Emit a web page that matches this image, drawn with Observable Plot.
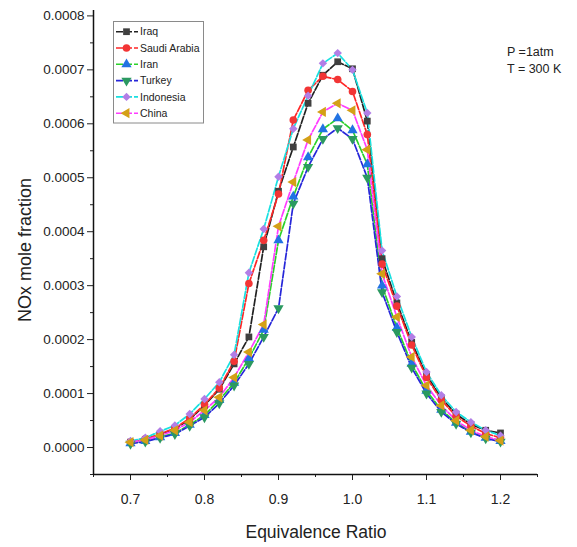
<!DOCTYPE html>
<html><head><meta charset="utf-8">
<script src="https://cdn.jsdelivr.net/npm/d3@7"></script>
<script src="https://cdn.jsdelivr.net/npm/@observablehq/plot@0.6"></script>
<style>
body{margin:0;background:#fff;}
#chart{position:relative;width:577px;height:547px;}
</style>
</head><body><div id="chart"></div>
<script>
// Equivalence ratio (x)
const phi = [0.70,0.72,0.74,0.76,0.78,0.80,0.82,0.84,0.86,0.88,0.90,0.92,0.94,0.96,0.98,1.00,1.02,1.04,1.06,1.08,1.10,1.12,1.14,1.16,1.18,1.20];
// NOx mole fraction per country
const iraq      = [0.000010,0.000015,0.000024,0.000035,0.000052,0.000078,0.000108,0.000155,0.000205,0.000372,0.000475,0.000557,0.000638,0.000690,0.000715,0.000702,0.000605,0.000350,0.000268,0.000195,0.000135,0.000092,0.000062,0.000043,0.000032,0.000027];
const saudi     = [0.000010,0.000016,0.000025,0.000036,0.000054,0.000080,0.000110,0.000160,0.000304,0.000384,0.000470,0.000607,0.000662,0.000688,0.000682,0.000660,0.000580,0.000340,0.000262,0.000190,0.000130,0.000088,0.000058,0.000040,0.000026,0.000018];
const iran      = [0.000008,0.000012,0.000019,0.000027,0.000042,0.000060,0.000088,0.000120,0.000165,0.000218,0.000384,0.000465,0.000538,0.000590,0.000610,0.000588,0.000525,0.000300,0.000222,0.000155,0.000105,0.000070,0.000046,0.000029,0.000018,0.000012];
const turkey    = [0.000007,0.000011,0.000018,0.000025,0.000040,0.000056,0.000082,0.000115,0.000155,0.000205,0.000258,0.000452,0.000520,0.000572,0.000592,0.000572,0.000500,0.000288,0.000214,0.000148,0.000100,0.000066,0.000044,0.000028,0.000017,0.000011];
const indonesia = [0.000012,0.000018,0.000030,0.000041,0.000062,0.000090,0.000121,0.000172,0.000324,0.000405,0.000502,0.000591,0.000652,0.000712,0.000731,0.000700,0.000620,0.000365,0.000280,0.000205,0.000140,0.000097,0.000066,0.000047,0.000032,0.000022];
const china     = [0.000010,0.000014,0.000022,0.000032,0.000047,0.000069,0.000093,0.000130,0.000177,0.000228,0.000410,0.000492,0.000570,0.000622,0.000638,0.000625,0.000552,0.000322,0.000242,0.000168,0.000115,0.000078,0.000050,0.000032,0.000020,0.000013];

const seriesNames = ["Iraq","Saudi Arabia","Iran","Turkey","Indonesia","China"];
const seriesValues = [iraq, saudi, iran, turkey, indonesia, china];
const lineColors = ["#222222","#ff2626","#2ad12a","#2626d9","#19e0e0","#ff3cff"];
const markerColors = ["#404040","#f23535","#2173e3","#2b9960","#b27ee6","#d4a017"];
const symbols = ["square","circle","triangle","triangle","diamond2","triangle"];
const rotations = [0,0,0,180,0,-90];

const xTicks = [0.7,0.8,0.9,1.0,1.1,1.2];
const xMinor = [0.65,0.75,0.85,0.95,1.05,1.15,1.25];
const yTicks = [0,0.0001,0.0002,0.0003,0.0004,0.0005,0.0006,0.0007,0.0008];
const yMinor = [-0.00005,0.00005,0.00015,0.00025,0.00035,0.00045,0.00055,0.00065,0.00075];
const xLabel = "Equivalence Ratio";
const yLabel = "NOx mole fraction";
const notes = ["P =1atm","T = 300 K"];

const xDomain = [0.65, 1.25];
const yDomain = [-0.00005, 0.00081];

const marks = [];
seriesValues.forEach((vals, s) => {
  const rows = phi.map((x, i) => ({x, y: vals[i]}));
  marks.push(Plot.line(rows, {x: "x", y: "y", stroke: lineColors[s], strokeWidth: 1.7, strokeDasharray: "7,2"}));
});
seriesValues.forEach((vals, s) => {
  const rows = phi.map((x, i) => ({x, y: vals[i]}));
  marks.push(Plot.dot(rows, {x: "x", y: "y", symbol: symbols[s], r: 3.8, rotate: rotations[s], fill: markerColors[s], stroke: "none"}));
});

const chart = Plot.plot({
  width: 577, height: 547,
  marginLeft: 93, marginRight: 40, marginTop: 10, marginBottom: 73,
  style: {fontFamily: "Arial, 'Liberation Sans', sans-serif", color: "#222", background: "#fff"},
  x: {domain: xDomain, label: null},
  y: {domain: yDomain, label: null},
  marks: [
    Plot.axisX(xTicks, {tickSize: 6, tickPadding: 14, tickFormat: d => d.toFixed(1), fontSize: 14, stroke: "#222", label: null}),
    Plot.axisX(xMinor, {tickSize: 3, tickFormat: () => "", stroke: "#222", label: null}),
    Plot.axisY(yTicks, {tickSize: 6, tickPadding: 3, tickFormat: d => d.toFixed(4), fontSize: 13.5, stroke: "#222", label: null}),
    Plot.axisY(yMinor, {tickSize: 3, tickFormat: () => "", stroke: "#222", label: null}),
    ...marks,
    Plot.ruleX([xDomain[0]], {stroke: "#111", strokeWidth: 1.5}),
    Plot.ruleY([yDomain[0]], {stroke: "#111", strokeWidth: 1.5})
  ]
});
document.getElementById("chart").appendChild(chart);

const svg = d3.select(chart);
// axis titles
svg.append("text").attr("x", 316).attr("y", 538).attr("text-anchor", "middle")
  .attr("font-size", 17.5).attr("fill", "#222").text(xLabel);
svg.append("text").attr("transform", "translate(31,250) rotate(-90)").attr("text-anchor", "middle")
  .attr("font-size", 18).attr("fill", "#222").text(yLabel);
// annotation
notes.forEach((t, i) => {
  svg.append("text").attr("x", 507).attr("y", 56 + i * 17).attr("text-anchor", "start")
    .attr("font-size", 12.5).attr("fill", "#222").text(t);
});
// legend
const lg = svg.append("g");
lg.append("rect").attr("x", 113.5).attr("y", 21.5).attr("width", 90).attr("height", 101.5)
  .attr("fill", "#fff").attr("stroke", "#8a8a8a").attr("stroke-width", 1);
seriesNames.forEach((name, s) => {
  const cy = 31.7 + s * 16.3;
  lg.append("line").attr("x1", 116).attr("x2", 138).attr("y1", cy).attr("y2", cy)
    .attr("stroke", lineColors[s]).attr("stroke-width", 1.6).attr("stroke-dasharray", "7,2");
  const symType = {square: d3.symbolSquare, circle: d3.symbolCircle, triangle: d3.symbolTriangle, diamond2: d3.symbolDiamond2}[symbols[s]];
  lg.append("path").attr("d", d3.symbol(symType, Math.PI * 3.8 * 3.8)())
    .attr("transform", `translate(126.5,${cy}) rotate(${rotations[s]})`).attr("fill", markerColors[s]);
  lg.append("text").attr("x", 140).attr("y", cy).attr("dy", "0.35em").attr("text-anchor", "start")
    .attr("font-size", 10.5).attr("fill", "#222").text(name);
});
</script>
</body></html>
